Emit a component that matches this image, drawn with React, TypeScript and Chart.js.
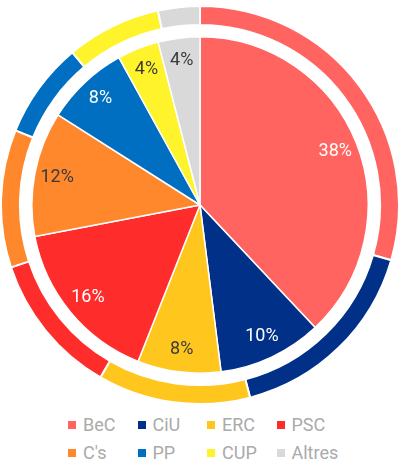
import React, { useEffect, useRef } from "react";
import { Chart, registerables } from "chart.js";

Chart.register(...registerables);

const parties = ["BeC", "CiU", "ERC", "PSC", "C's", "PP", "CUP", "Altres"];
const innerValues = [38, 10, 8, 16, 12, 8, 4, 4];
const outerValues = [29.5, 16.5, 12.4, 11.6, 11.2, 7.8, 7.7, 3.4];
const colors = ["#FF6461", "#003087", "#FFC71E", "#FF2C2C", "#FF872C", "#006FC2", "#FFF32C", "#D9D9D9"];
const labelColors = ["#FFFFFF", "#FFFFFF", "#3A3A3A", "#FFFFFF", "#3A3A3A", "#FFFFFF", "#3A3A3A", "#3A3A3A"];

const FONT = "Roboto, 'Noto Sans', sans-serif";

const pctLabels = {
  id: "pctLabels",
  afterDatasetsDraw(chart: any) {
    const meta = chart.getDatasetMeta(2);
    const ctx = chart.ctx;
    ctx.save();
    ctx.font = `18px ${FONT}`;
    ctx.textAlign = "center";
    ctx.textBaseline = "middle";
    meta.data.forEach((arc: any, i: number) => {
      const { x, y, startAngle, endAngle, outerRadius } = arc.getProps(
        ["x", "y", "startAngle", "endAngle", "outerRadius"],
        true
      );
      const mid = (startAngle + endAngle) / 2;
      const r = outerRadius * 0.865;
      ctx.fillStyle = labelColors[i];
      ctx.fillText(innerValues[i] + "%", x + Math.cos(mid) * r, y + Math.sin(mid) * r);
    });
    ctx.restore();
  },
};

export default function App() {
  const ref = useRef<HTMLCanvasElement>(null);
  useEffect(() => {
    const chart = new Chart(ref.current!, {
      type: "doughnut",
      data: {
        labels: parties,
        datasets: [
          {
            data: outerValues,
            backgroundColor: colors,
            borderColor: "#FFFFFF",
            borderWidth: 2,
            weight: 19,
          } as any,
          {
            data: [1],
            backgroundColor: "rgba(0,0,0,0)",
            borderWidth: 0,
            weight: 12,
          } as any,
          {
            data: innerValues,
            backgroundColor: colors,
            borderColor: "#FFFFFF",
            borderWidth: 1.5,
            weight: 169,
          } as any,
        ],
      },
      options: {
        responsive: false,
        animation: false,
        events: [],
        cutout: 0,
        layout: { padding: { top: 4, bottom: 4, left: 0, right: 0 } },
        plugins: {
          legend: { display: false },
          tooltip: { enabled: false },
        },
      } as any,
      plugins: [pctLabels],
    });
    return () => chart.destroy();
  }, []);

  return (
    <div style={{ position: "absolute", left: 0, top: 0, width: 400, height: 460, background: "#fff" }}>
      <canvas ref={ref} width={400} height={410} style={{ display: "block" }} />
      <div
        style={{
          position: "absolute",
          left: 68,
          top: 411,
          display: "grid",
          gridTemplateColumns: "69.5px 69.5px 69.5px 69.5px",
          fontFamily: FONT,
          fontSize: 18,
          color: "#AAAAAA",
          lineHeight: "28px",
        }}
      >
        {parties.map((p, i) => (
          <div key={p} style={{ display: "flex", alignItems: "center", whiteSpace: "nowrap" }}>
            <span
              style={{
                display: "inline-block",
                width: 8,
                height: 8,
                background: colors[i],
                marginRight: 7,
              }}
            />
            <span>{p}</span>
          </div>
        ))}
      </div>
    </div>
  );
}
